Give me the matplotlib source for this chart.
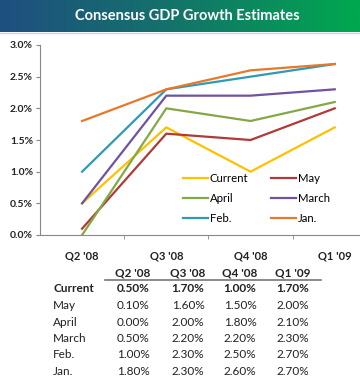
import numpy as np
import matplotlib
matplotlib.use("Agg")
import matplotlib.pyplot as plt
from matplotlib.colors import LinearSegmentedColormap

plt.rcParams['font.family'] = ['Lato', 'DejaVu Sans']

quarters = ["Q2 '08", "Q3 '08", "Q4 '08", "Q1 '09"]
series_names = ["Current", "May", "April", "March", "Feb.", "Jan."]
current = [0.50, 1.70, 1.00, 1.70]
may = [0.10, 1.60, 1.50, 2.00]
april = [0.00, 2.00, 1.80, 2.10]
march = [0.50, 2.20, 2.20, 2.30]
feb = [1.00, 2.30, 2.50, 2.70]
jan = [1.80, 2.30, 2.60, 2.70]
series_values = [current, may, april, march, feb, jan]
colors = ["#FFC000", "#B03A37", "#84A844", "#7052A0", "#2E9BB5", "#E7782A"]

W, H = 360, 380
fig = plt.figure(figsize=(W / 100, H / 100), dpi=100)

# title banner
bax = fig.add_axes([0, 1 - 32 / H, 1, 32 / H])
cmap = LinearSegmentedColormap.from_list("banner", ["#1f4f80", "#137569", "#00a84f"])
bax.imshow(np.linspace(0, 1, 256).reshape(1, -1), aspect="auto", cmap=cmap,
           extent=[0, 1, 0, 1])
bax.set_axis_off()
bax.text(0.52, 0.5, "Consensus GDP Growth Estimates", color="white",
         fontsize=10.5, fontweight="bold", ha="center", va="center")
fig.add_artist(plt.Line2D([0, 1], [1 - 33 / H, 1 - 33 / H], color="#c8d4ea", lw=1))

# line chart
ax = fig.add_axes([40 / W, 1 - 235 / H, 320 / W, 190 / H])
x = np.arange(len(quarters))
lines = {}
for name, vals, c in zip(series_names, series_values, colors):
    lines[name], = ax.plot(x, vals, color=c, lw=1.6, label=name)

ax.set_xlim(-0.5, 3.30)
ax.set_ylim(0, 3.0)
ax.set_yticks(np.arange(0, 3.01, 0.5))
ax.set_yticklabels([f"{v:.1f}%" for v in np.arange(0, 3.01, 0.5)])
ax.set_xticks(x)
ax.set_xticklabels(quarters)
ax.set_xticks([0.5, 1.5, 2.5], minor=True)
ax.tick_params(axis="x", which="major", length=0, pad=11, labelsize=8)
ax.tick_params(axis="x", which="minor", length=3, color="#888888", direction="out")
ax.tick_params(axis="y", length=3, color="#888888", labelsize=7.5, pad=2)
for lbl in ax.get_xticklabels() + ax.get_yticklabels():
    lbl.set_fontweight("bold")
    lbl.set_color("#222222")
for s in ["top", "right"]:
    ax.spines[s].set_visible(False)
for s in ["left", "bottom"]:
    ax.spines[s].set_color("#888888")

order = ["Current", "April", "Feb.", "May", "March", "Jan."]
ax.legend([lines[n] for n in order], order, ncol=2, frameon=False,
          loc="upper left", bbox_to_anchor=((183 - 40) / 320, (235 - 173) / 190),
          fontsize=8.2, handlelength=2.2, handletextpad=0.15, columnspacing=2.0,
          labelspacing=0.78, borderaxespad=0, borderpad=0)

# table below the chart
tax = fig.add_axes([0, 0, 1, 1])
tax.set_xlim(0, W)
tax.set_ylim(H, 0)
tax.set_axis_off()
col_x = [133, 188, 240, 293]
for cx, q in zip(col_x, quarters):
    tax.text(cx, 273, q, ha="center", va="center", fontsize=8.5, fontweight="bold",
             color="#222222")
tax.plot([105, 321], [280, 280], color="#777777", lw=1.2)
row_y = 289
for i, (name, vals) in enumerate(zip(series_names, series_values)):
    yy = row_y + i * 16.5
    fw = "bold" if i == 0 else "normal"
    tax.text(53, yy, name, ha="left", va="center", fontsize=8.5, fontweight=fw,
             color="#222222")
    for cx, v in zip(col_x, vals):
        tax.text(cx, yy, f"{v:.2f}%", ha="center", va="center", fontsize=8.5,
                 fontweight=fw, color="#222222")

fig.savefig("out.png", dpi=100)
